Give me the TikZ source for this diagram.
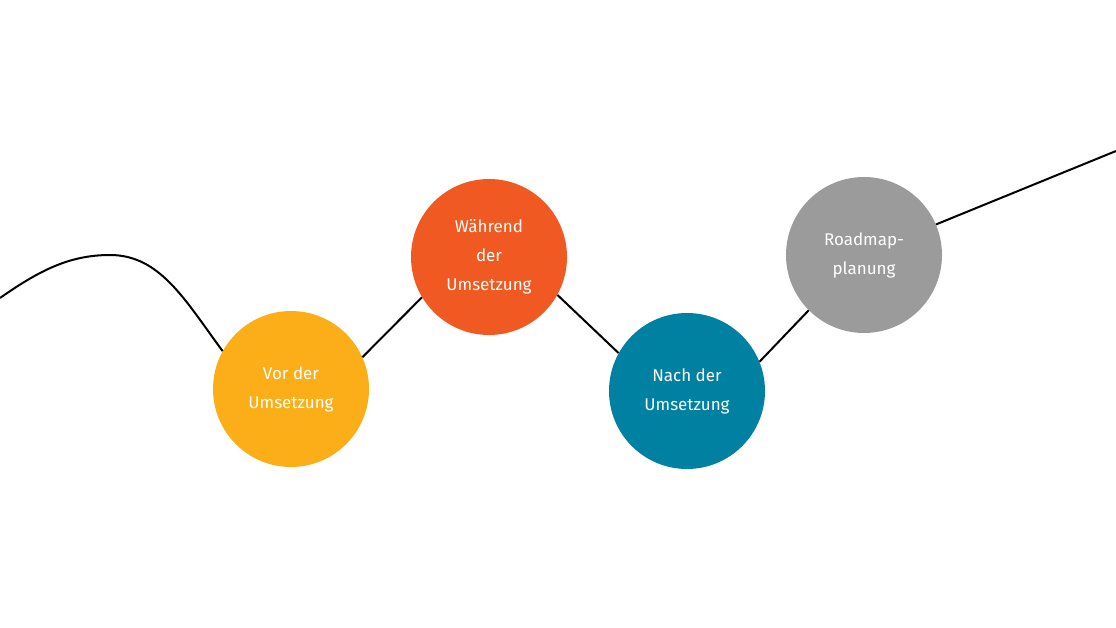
\documentclass[tikz,border=0pt]{standalone}
\usepackage{fontspec}
\setmainfont{Fira Sans}
\definecolor{cy}{HTML}{FBAE17}
\definecolor{co}{HTML}{F05A22}
\definecolor{ct}{HTML}{0081A1}
\definecolor{cg}{HTML}{9B9B9B}
\begin{document}
\begin{tikzpicture}[x=1pt,y=1pt,
  stage/.style={circle,minimum size=156pt,inner sep=0pt,text=white,align=center,font=\fontsize{17}{29}\selectfont},
  link/.style={line width=2pt,black}]
\useasboundingbox (0,0) rectangle (1116,-628);
\node[stage,fill=cy] (y) at (291,-389) {Vor der\\Umsetzung};
\node[stage,fill=co] (o) at (489,-257) {Während\\der\\Umsetzung};
\node[stage,fill=ct] (t) at (687,-391) {Nach der\\Umsetzung};
\node[stage,fill=cg] (g) at (864,-255) {Roadmap-\\planung};
\coordinate (s) at (0,-298);
\coordinate (e) at (1116,-151);
\draw[link] (s) .. controls (40,-270) and (70,-255) .. (110,-255) .. controls (160,-255) and (185,-300) .. (y.151);
\draw[link] (y.24) -- (o.211);
\draw[link] (o.331) -- (t.151);
\draw[link] (t.22) -- (g.225);
\draw[link] (g.23) -- (e);
\end{tikzpicture}
\end{document}
